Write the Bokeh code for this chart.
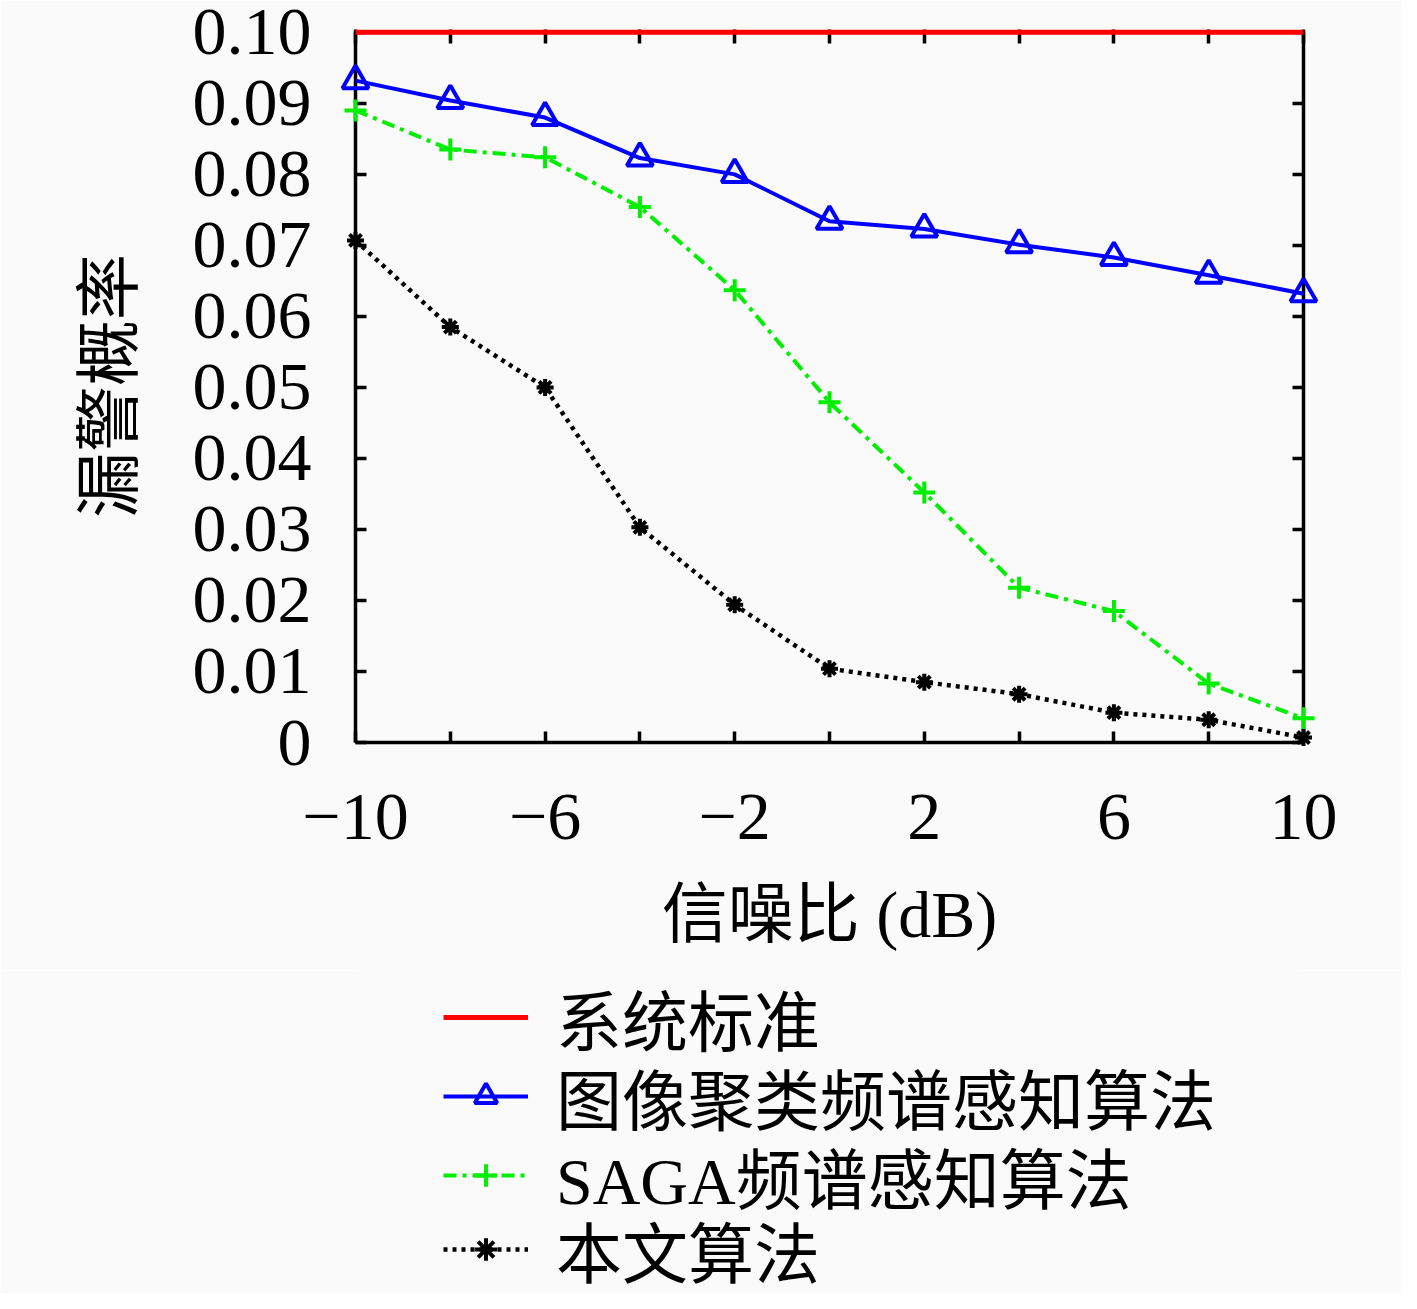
from bokeh.plotting import figure
from bokeh.models import Range1d, FixedTicker, LinearAxis, Legend, LegendItem
from bokeh.layouts import column
from bokeh.embed import file_html
from bokeh.resources import INLINE

# ---- data ----
snr = [-10, -8, -6, -4, -2, 0, 2, 4, 6, 8, 10]
standard = [0.10] * 11
image_cluster = [0.0932, 0.0904, 0.0880, 0.0823, 0.0800, 0.0734, 0.0723, 0.0701, 0.0683, 0.0658, 0.0632]
saga = [0.0890, 0.0835, 0.0824, 0.0754, 0.0637, 0.0479, 0.0352, 0.0218, 0.0185, 0.0083, 0.0034]
proposed = [0.0707, 0.0585, 0.0500, 0.0303, 0.0194, 0.0104, 0.0085, 0.0068, 0.0042, 0.0032, 0.0007]

x_ticks = [-10, -8, -6, -4, -2, 0, 2, 4, 6, 8, 10]
x_tick_labels = ["\u221210", "", "\u22126", "", "\u22122", "", "2", "", "6", "", "10"]
y_ticks = [0, 0.01, 0.02, 0.03, 0.04, 0.05, 0.06, 0.07, 0.08, 0.09, 0.10]
y_tick_labels = ["0", "0.01", "0.02", "0.03", "0.04", "0.05", "0.06", "0.07", "0.08", "0.09", "0.10"]

series_names = ["系统标准", "图像聚类频谱感知算法", "SAGA频谱感知算法", "本文算法"]

SERIF = "'Liberation Serif', 'Noto Sans CJK SC'"
BG = "#fafafa"

STYLES = [
    dict(color="#ff0000", width=5, dash="solid", marker=None, msize=0, mwidth=0),
    dict(color="#0000ff", width=4, dash="solid", marker="triangle", msize=26, mwidth=4),
    dict(color="#00ee00", width=4, dash="13 6 4 6", marker="cross", msize=22, mwidth=4),
    dict(color="black", width=4.5, dash="4 5", marker="asterisk", msize=17, mwidth=4),
]

p = figure(width=1401, height=970, output_backend="svg", toolbar_location=None,
           x_range=Range1d(-10, 10), y_range=Range1d(0, 0.1004),
           x_axis_location=None, y_axis_location=None,
           min_border_left=355, min_border_right=98, min_border_top=29, min_border_bottom=228,
           background_fill_color=BG, border_fill_color=BG, outline_line_color=None)
p.grid.visible = False

def style_axis(ax, labels=True):
    ax.axis_line_width = 3.5
    ax.axis_line_color = "black"
    ax.major_tick_in = 11
    ax.major_tick_out = 0
    ax.major_tick_line_width = 3.5
    ax.minor_tick_line_color = None
    ax.major_label_text_font = SERIF
    ax.major_label_text_font_size = "68px"
    ax.major_label_text_color = "black"
    ax.axis_label_text_font = SERIF
    ax.axis_label_text_font_size = "66px"
    ax.axis_label_text_font_style = "normal"
    ax.axis_label_text_color = "black"
    if not labels:
        ax.major_label_text_font_size = "0px"

xb = LinearAxis(ticker=FixedTicker(ticks=x_ticks), axis_label="信噪比 (dB)")
style_axis(xb)
xb.major_label_overrides = dict(zip(x_ticks, x_tick_labels))
xb.major_label_standoff = 52
xb.axis_label_standoff = 36
p.add_layout(xb, "below")

yl = LinearAxis(ticker=FixedTicker(ticks=y_ticks), axis_label="漏警概率", bounds=(0, 0.10))
style_axis(yl)
yl.major_label_overrides = dict(zip(y_ticks, y_tick_labels))
yl.major_label_standoff = 44
yl.axis_label_standoff = 44
p.add_layout(yl, "left")

xt = LinearAxis(ticker=FixedTicker(ticks=x_ticks))
style_axis(xt, labels=False)
xt.axis_line_color = None
xt.major_tick_in = 14
xt.major_label_overrides = {t: "" for t in x_ticks}
p.add_layout(xt, "above")

yr = LinearAxis(ticker=FixedTicker(ticks=y_ticks), bounds=(0, 0.10))
style_axis(yr, labels=False)
yr.major_label_overrides = {t: "" for t in y_ticks}
p.add_layout(yr, "right")

# ---- series on the main plot ----
all_series = [standard, image_cluster, saga, proposed]
for vals, st in zip(all_series, STYLES):
    p.line(snr, vals, line_color=st["color"], line_width=st["width"], line_dash=st["dash"],
           level="overlay")
    if st["marker"]:
        kw = dict(fill_color=None) if st["marker"] == "triangle" else {}
        p.scatter(snr, vals, marker=st["marker"], size=st["msize"], line_color=st["color"],
                  line_width=st["mwidth"], level="overlay", **kw)

# ---- legend panel (second figure, same styles) ----
lf = figure(width=1401, height=323, output_backend="svg", toolbar_location=None,
            x_range=Range1d(100, 200), y_range=Range1d(100, 200),
            x_axis_location=None, y_axis_location=None,
            min_border_left=0, min_border_right=0, min_border_top=0, min_border_bottom=0,
            background_fill_color=BG, border_fill_color=BG, outline_line_color=None)
lf.grid.visible = False

legend_offsets = [228, 149, 70, -4]   # vertical placement of each legend row (px from bottom)
for name, vals, st, off in zip(series_names, all_series, STYLES, legend_offsets):
    rs = [lf.line(snr, vals, line_color=st["color"], line_width=st["width"], line_dash=st["dash"])]
    if st["marker"]:
        kw = dict(fill_color=None) if st["marker"] == "triangle" else {}
        rs.append(lf.scatter(snr, vals, marker=st["marker"], size=st["msize"],
                             line_color=st["color"], line_width=st["mwidth"], **kw))
    lg = Legend(items=[LegendItem(label=name, renderers=rs)], location=(88, off))
    lg.label_text_font = SERIF
    lg.label_text_font_size = "66px"
    lg.label_text_color = "black"
    lg.glyph_width = 85
    lg.glyph_height = 56
    lg.label_height = 56
    lg.label_standoff = 28
    lg.padding = 0
    lg.margin = 0
    lg.border_line_color = None
    lg.background_fill_alpha = 0
    lf.add_layout(lg, "center")

layout = column(p, lf, spacing=0)
open("out.html", "w").write(file_html(layout, INLINE))
